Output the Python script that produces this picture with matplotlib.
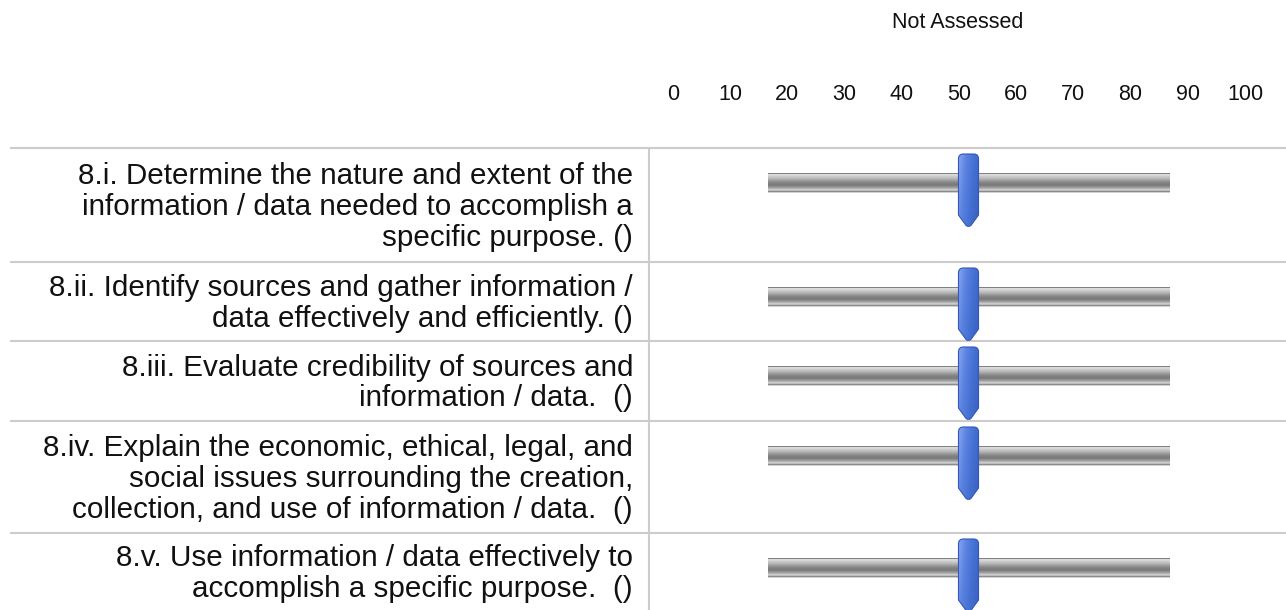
import numpy as np
import matplotlib
matplotlib.use("Agg")
import matplotlib.pyplot as plt
from matplotlib.path import Path
from matplotlib.patches import PathPatch
from matplotlib.colors import LinearSegmentedColormap

plt.rcParams['font.family'] = ['Liberation Sans', 'DejaVu Sans']

# data
header = "Not Assessed"
scale_ticks = [0, 10, 20, 30, 40, 50, 60, 70, 80, 90, 100]
items = [
    "8.i. Determine the nature and extent of the\ninformation / data needed to accomplish a\nspecific purpose. ()",
    "8.ii. Identify sources and gather information /\ndata effectively and efficiently. ()",
    "8.iii. Evaluate credibility of sources and\ninformation / data.  ()",
    "8.iv. Explain the economic, ethical, legal, and\nsocial issues surrounding the creation,\ncollection, and use of information / data.  ()",
    "8.v. Use information / data effectively to\naccomplish a specific purpose.  ()",
]
values = [50, 50, 50, 50, 50]

# layout (pixels)
W, H = 1286, 610
row_edges = [148, 262, 341, 421, 533, 610]
line_col = "#cccccc"

fig = plt.figure(figsize=(W / 100, H / 100), dpi=100)
base = fig.add_axes([0, 0, 1, 1])
base.set_xlim(0, W)
base.set_ylim(H, 0)
base.axis("off")

# table grid
for y in row_edges[:-1]:
    base.plot([10, W], [y, y], color=line_col, lw=1.5, solid_capstyle="butt")
base.plot([649, 649], [row_edges[0], H], color=line_col, lw=1.5, solid_capstyle="butt")

# statement text
for i, txt in enumerate(items):
    yc = (row_edges[i] + row_edges[i + 1]) / 2 + 2
    base.text(633, yc, txt, ha="right", va="center", ma="right",
              fontsize=21.3, linespacing=1.12, color="#111111")

# header and scale labels
base.text(958, 22, header, ha="center", va="center", fontsize=15.5, color="#111111")
lab = fig.add_axes([673 / W, 0, (1245 - 673) / W, 1])
lab.set_xlim(0, 100)
lab.set_ylim(H, 0)
lab.axis("off")
for t in scale_ticks:
    lab.text(t, 95, str(t), ha="center", va="center", fontsize=15.5, color="#111111")

# sliders
sl = fig.add_axes([768 / W, 0, (1169 - 768) / W, 1])
sl.set_xlim(0, 100)
sl.set_ylim(H, 0)
sl.axis("off")

track_shades = np.array([0.50, 0.86, 0.84, 0.80, 0.76, 0.72, 0.67, 0.62, 0.57, 0.53,
                         0.50, 0.48, 0.50, 0.55, 0.62, 0.70, 0.80, 0.74, 0.55, 0.82])
track_img = np.repeat(track_shades[:, None], 2, axis=1)
blue = LinearSegmentedColormap.from_list("thumb", ["#86a6f2", "#5a82e0", "#4470d2", "#3a62c0"])
thumb_img = np.tile(np.linspace(0, 1, 20)[None, :], (40, 1))
thumb_img = thumb_img * 0.8 + np.linspace(0, 0.25, 40)[:, None]

hw = 2.5
for i, v in enumerate(values):
    top = row_edges[i]
    tc = top + 35
    sl.imshow(track_img, cmap="gray", vmin=0, vmax=1, aspect="auto",
              extent=(0, 100, tc + 10, tc - 10), interpolation="bilinear", zorder=2)
    yt, yb = top + 6, top + 79
    verts = [(v - hw, yt + 5), (v - hw, yt), (v - hw + 1.2, yt),
             (v + hw - 1.2, yt), (v + hw, yt), (v + hw, yt + 5),
             (v + hw, yb - 12), (v + 0.6, yb - 1.5), (v, yb + 0.5), (v - 0.6, yb - 1.5),
             (v - hw, yb - 12), (v - hw, yt + 5)]
    codes = [Path.MOVETO, Path.CURVE3, Path.CURVE3,
             Path.LINETO, Path.CURVE3, Path.CURVE3,
             Path.LINETO, Path.LINETO, Path.CURVE3, Path.CURVE3,
             Path.LINETO, Path.CLOSEPOLY]
    patch = PathPatch(Path(verts, codes), facecolor="none", edgecolor="#3557b5",
                      lw=0.8, zorder=4)
    sl.add_patch(patch)
    im = sl.imshow(thumb_img, cmap=blue, vmin=0, vmax=1, aspect="auto",
                   extent=(v - hw, v + hw, yb + 1, yt), interpolation="bilinear", zorder=3)
    im.set_clip_path(patch)

fig.savefig("out.png", dpi=100)
